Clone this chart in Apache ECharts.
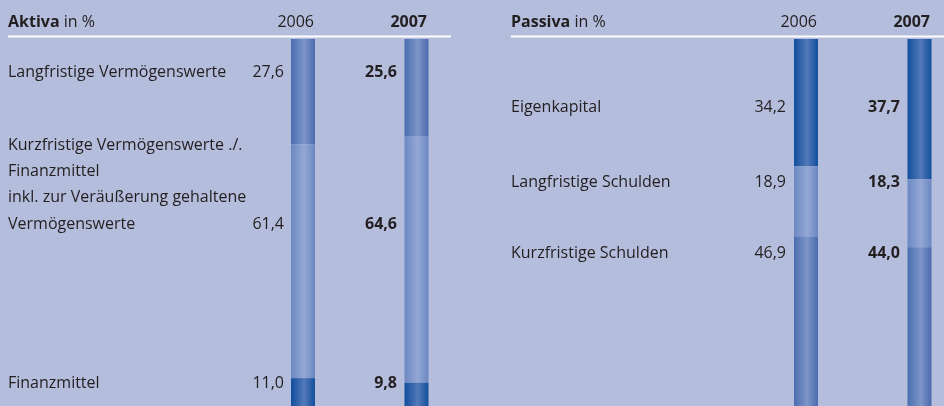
<!DOCTYPE html>
<html>
<head>
<meta charset="utf-8">
<script src="https://cdn.jsdelivr.net/npm/echarts@6/dist/echarts.min.js"></script>
<style>
  html, body { margin: 0; padding: 0; background: #b4bddc; }
  #chart { width: 944px; height: 406px; }
</style>
</head>
<body>
<div id="chart"></div>
<script>
// data
const years = ['2006', '2007']
const aktivaCats = ['Langfristige Vermögenswerte', 'Kurzfristige Vermögenswerte ./.\nFinanzmittel\ninkl. zur Veräußerung gehaltene\nVermögenswerte', 'Finanzmittel']
const aktiva2006 = [27.6, 61.4, 11.0]
const aktiva2007 = [25.6, 64.6, 9.8]
const passivaCats = ['Eigenkapital', 'Langfristige Schulden', 'Kurzfristige Schulden']
const passiva2006 = [34.2, 18.9, 46.9]
const passiva2007 = [37.7, 18.3, 44.0]

// layout (label rows, not data)
const aktivaRowY = [72, 224, 383]
const passivaRowY = [107, 182, 253]

const font = '"Open Sans", sans-serif'
const ink = '#231f20'
const fs = 16

// edge / centre colours of the three bar shades
const shades = {
  dark: ['#0f4f9c', '#5479b9', '#0f4f9c'],
  mid: ['#4a6daf', '#7d96c9', '#4a6aad'],
  light: ['#6c88c2', '#94a8d5', '#6a86c0']
}
const grad = s => new echarts.graphic.LinearGradient(0, 0, 1, 0, [
  { offset: 0, color: shades[s][0] },
  { offset: 0.55, color: shades[s][1] },
  { offset: 1, color: shades[s][2] }
])

const fmt = v => v.toFixed(1).replace('.', ',')

const chart = echarts.init(document.getElementById('chart'))

const stackSeries = (cats, a, b, shadeList, idx) => cats.map((c, i) => ({
  name: c,
  type: 'bar',
  stack: 'side' + idx,
  xAxisIndex: idx,
  yAxisIndex: idx,
  barWidth: 24,
  data: [a[i], b[i]],
  itemStyle: { color: grad(shadeList[i]) },
  silent: true
}))

const txt = (x, y, text, opts = {}) => ({
  type: 'text',
  x, y,
  style: {
    text,
    font: `${opts.bold ? 'bold ' : ''}${fs}px ${font}`,
    fill: ink,
    textAlign: opts.align || 'left',
    textVerticalAlign: 'middle'
  }
})

const head = (x, word) => ({
  type: 'text', x, y: 22,
  style: { text: `{b|${word}} in %`, font: `${fs}px ${font}`, fill: ink, textVerticalAlign: 'middle',
    rich: { b: { fontWeight: 'bold', fontFamily: font, fontSize: fs, fill: ink } } }
})

const graphics = [
  { type: 'line', shape: { x1: 8, y1: 36.5, x2: 451, y2: 36.5 }, style: { stroke: '#fff', lineWidth: 2 } },
  { type: 'line', shape: { x1: 511, y1: 36.5, x2: 944, y2: 36.5 }, style: { stroke: '#fff', lineWidth: 2 } },
  head(8, 'Aktiva'),
  head(511, 'Passiva'),
  txt(314, 22, years[0], { align: 'right' }),
  txt(427, 22, years[1], { align: 'right', bold: true }),
  txt(817, 22, years[0], { align: 'right' }),
  txt(930, 22, years[1], { align: 'right', bold: true })
]

aktivaCats.forEach((c, i) => {
  const lines = c.split('\n')
  lines.forEach((ln, j) => graphics.push(txt(8, aktivaRowY[i] - (lines.length - 1 - j) * 26.3, ln)))
  graphics.push(txt(284, aktivaRowY[i], fmt(aktiva2006[i]), { align: 'right' }))
  graphics.push(txt(397, aktivaRowY[i], fmt(aktiva2007[i]), { align: 'right', bold: true }))
})
passivaCats.forEach((c, i) => {
  graphics.push(txt(511, passivaRowY[i], c))
  graphics.push(txt(786, passivaRowY[i], fmt(passiva2006[i]), { align: 'right' }))
  graphics.push(txt(900, passivaRowY[i], fmt(passiva2007[i]), { align: 'right', bold: true }))
})

// bars sit on the category points (boundaryGap false), the stack runs past the bottom edge
const hiddenCat = idx => ({ type: 'category', gridIndex: idx, data: years, boundaryGap: false, show: false })
const hiddenVal = (idx, max) => ({ type: 'value', gridIndex: idx, min: 0, max, inverse: true, show: false })

chart.setOption({
  animation: false,
  backgroundColor: '#b4bddc',
  grid: [
    { left: 303, width: 113.5, top: 39, height: 367 },
    { left: 806, width: 113.5, top: 39, height: 367 }
  ],
  xAxis: [hiddenCat(0), hiddenCat(1)],
  yAxis: [hiddenVal(0, 96.3), hiddenVal(1, 98.7)],
  series: [
    ...stackSeries(aktivaCats, aktiva2006, aktiva2007, ['mid', 'light', 'dark'], 0),
    ...stackSeries(passivaCats, passiva2006, passiva2007, ['dark', 'light', 'mid'], 1)
  ],
  graphic: graphics
})
</script>
</body>
</html>
